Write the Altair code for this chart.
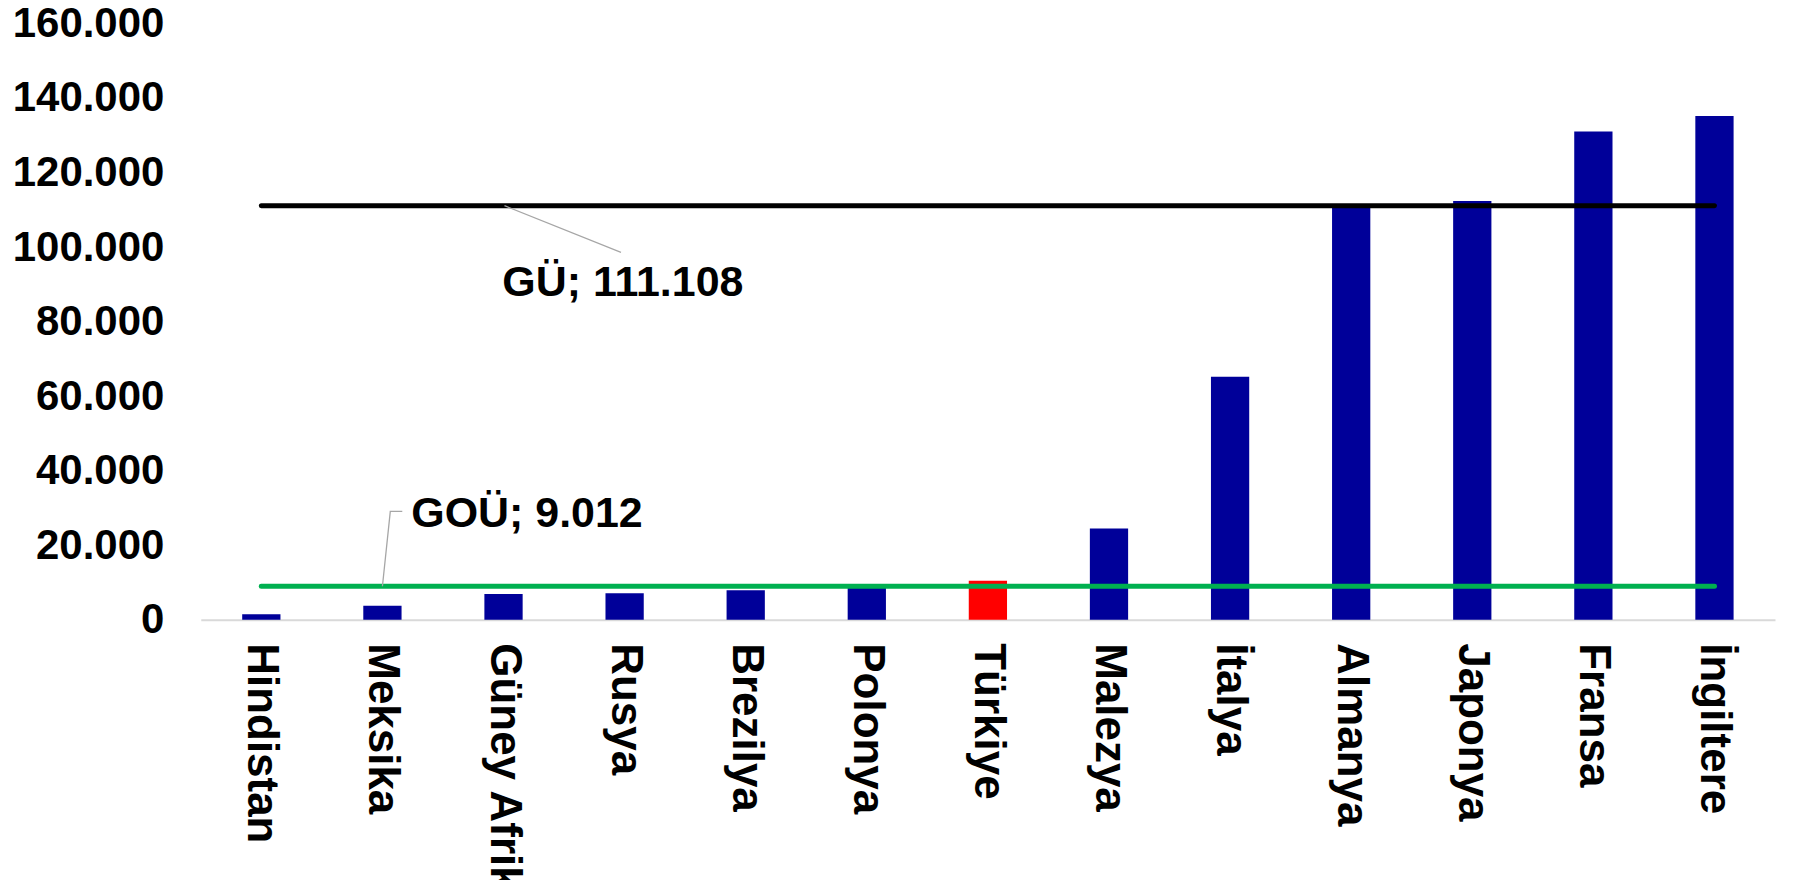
import altair as alt
import pandas as pd

categories = ["Hindistan", "Meksika", "Güney Afrika", "Rusya", "Brezilya", "Polonya",
              "Türkiye", "Malezya", "İtalya", "Almanya", "Japonya", "Fransa", "İngiltere"]
values = [1500, 3800, 6900, 7100, 7900, 8600, 10500, 24500, 65200, 111000, 112400, 131000, 135200]
highlight = "Türkiye"

gu_value = 111108
gou_value = 9012
gu_label = "GÜ; 111.108"
gou_label = "GOÜ; 9.012"
y_ticks = [0, 20000, 40000, 60000, 80000, 100000, 120000, 140000, 160000]

FONT = "Liberation Sans"
FS = 43
FSY = 42
FSX = 44

bars_df = pd.DataFrame({
    "category": categories,
    "value": values,
    "color": ["#ff0000" if c == highlight else "#000099" for c in categories],
})

lines_df = pd.DataFrame({
    "category": [categories[0], categories[-1], categories[0], categories[-1]],
    "value": [gu_value, gu_value, gou_value, gou_value],
    "grp": ["GU", "GU", "GOU", "GOU"],
    "color": ["#000000", "#000000", "#00b050", "#00b050"],
})

# annotation positions in category-index units (category i center = i + 0.5)
leader_df = pd.DataFrame({
    "xq": [2.508, 3.47, 1.5, 1.565, 1.664],
    "value": [gu_value, 98600, gou_value, 29100, 29100],
    "grp": ["GU", "GU", "GOU", "GOU", "GOU"],
    "ord": [0, 1, 0, 1, 2],
})
text_df = pd.DataFrame({
    "xq": [2.49, 1.738],
    "value": [87000, 24800],
    "label": [gu_label, gou_label],
})

x_axis = alt.Axis(title=None, labelAngle=90, labelFontSize=FSX, labelFont=FONT,
                  labelFontWeight="bold", labelColor="black", labelPadding=23,
                  labelLimit=500, ticks=False, domainColor="#d9d9d9", domainWidth=2,
                  grid=False)
x_enc = alt.X("category:N", sort=categories,
              scale=alt.Scale(paddingInner=0.684, paddingOuter=0.342), axis=x_axis)

y_axis = alt.Axis(title=None, values=y_ticks,
                  labelExpr="datum.value == 0 ? '0' : format(datum.value / 1000, 'd') + '.000'",
                  labelFontSize=FSY, labelFont=FONT, labelFontWeight="bold", labelColor="black",
                  labelPadding=37, ticks=False, domain=False, grid=False)
y_scale = alt.Scale(domain=[0, 160000], nice=False)

bars = alt.Chart(bars_df).mark_bar().encode(
    x=x_enc,
    y=alt.Y("value:Q", scale=y_scale, axis=y_axis),
    color=alt.Color("color:N", scale=None),
)

lines = alt.Chart(lines_df).mark_line(strokeWidth=5, strokeCap="round").encode(
    x=x_enc,
    y=alt.Y("value:Q", scale=y_scale, axis=y_axis),
    color=alt.Color("color:N", scale=None),
    detail="grp:N",
)

base = alt.layer(bars, lines)

xq_scale = alt.Scale(domain=[0, 13], nice=False, zero=False)

leaders = alt.Chart(leader_df).mark_line(strokeWidth=1.3, color="#a6a6a6").encode(
    x=alt.X("xq:Q", scale=xq_scale, axis=None),
    y=alt.Y("value:Q", scale=y_scale, axis=y_axis),
    detail="grp:N",
    order="ord:Q",
)

texts = alt.Chart(text_df).mark_text(align="left", baseline="alphabetic", fontSize=FS,
                                     font=FONT, fontWeight="bold", color="black").encode(
    x=alt.X("xq:Q", scale=xq_scale, axis=None),
    y=alt.Y("value:Q", scale=y_scale, axis=y_axis),
    text="label:N",
)

annot = alt.layer(leaders, texts)

chart = alt.layer(base, annot).resolve_scale(x="independent").properties(
    width=1576,
    height=597,
    autosize=alt.AutoSizeParams(type="none"),
    padding={"left": 193, "top": 15, "right": 10, "bottom": 260},
).configure(background="white").configure_view(stroke=None)

chart.save("out.html", embed_options={"renderer": "svg", "actions": False})
